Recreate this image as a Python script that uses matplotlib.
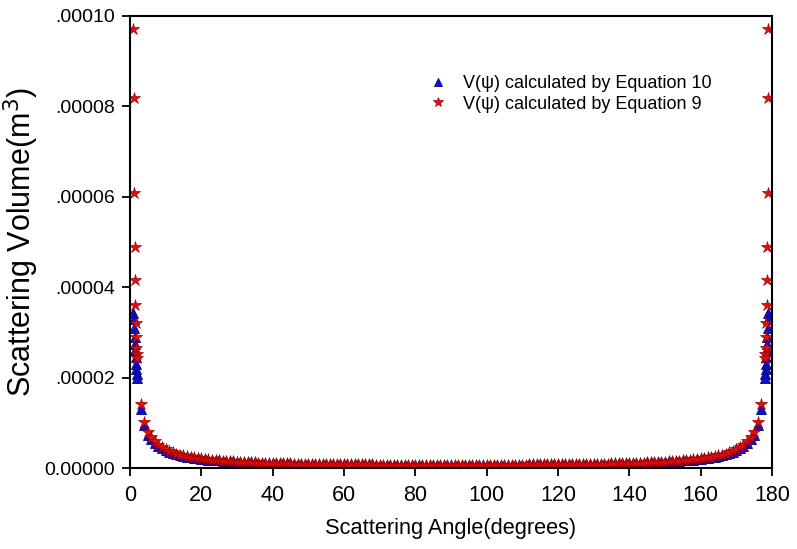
import numpy as np
import matplotlib
matplotlib.use("Agg")
import matplotlib.pyplot as plt
from matplotlib.ticker import FuncFormatter

plt.rcParams['font.family'] = ['Liberation Sans', 'DejaVu Sans']

# ---- data (values in units of 1e-6 m^3) ----
# small-angle clusters near 0 and 180 degrees
small_angles = [1.0, 1.1, 1.2, 1.3, 1.4, 1.5, 1.6, 1.7, 1.8, 1.9, 2.0]
eq9_small = [97.1, 81.8, 60.8, 49.0, 41.5, 36.1, 32.0, 29.0, 26.5, 25.3, 24.3]
eq10_small = [34.3, 33.0, 31.0, 29.0, 27.5, 26.0, 24.5, 23.0, 21.8, 20.8, 20.0]

# main range, 3..177 degrees in 1-degree steps
main_angles = list(range(3, 178))
eq9_main = [
    14.2, 10.2, 8.00, 6.89, 5.91, 5.17, 4.60, 4.15, 3.77, 3.46,
    3.20, 2.98, 2.78, 2.61, 2.46, 2.33, 2.21, 2.11, 2.01, 1.92,
    1.84, 1.77, 1.70, 1.64, 1.59, 1.53, 1.49, 1.44, 1.40, 1.36,
    1.32, 1.29, 1.26, 1.22, 1.20, 1.17, 1.14, 1.12, 1.10, 1.08,
    1.06, 1.04, 1.02, 1.00, 0.98, 0.97, 0.95, 0.94, 0.93, 0.91,
    0.90, 0.89, 0.88, 0.87, 0.86, 0.85, 0.84, 0.83, 0.82, 0.82,
    0.81, 0.80, 0.79, 0.79, 0.78, 0.78, 0.77, 0.77, 0.76, 0.76,
    0.75, 0.75, 0.75, 0.74, 0.74, 0.74, 0.73, 0.73, 0.73, 0.73,
    0.73, 0.72, 0.72, 0.72, 0.72, 0.72, 0.72, 0.72,
    # 91..177
    0.72, 0.72, 0.72, 0.72, 0.72, 0.72, 0.73, 0.73, 0.73, 0.73,
    0.73, 0.74, 0.74, 0.74, 0.75, 0.75, 0.75, 0.76, 0.76, 0.77,
    0.77, 0.78, 0.78, 0.79, 0.79, 0.80, 0.81, 0.82, 0.82, 0.83,
    0.84, 0.85, 0.86, 0.87, 0.88, 0.89, 0.90, 0.91, 0.93, 0.94,
    0.95, 0.97, 0.98, 1.00, 1.02, 1.04, 1.06, 1.08, 1.10, 1.12,
    1.14, 1.17, 1.20, 1.22, 1.26, 1.29, 1.32, 1.36, 1.40, 1.44,
    1.49, 1.53, 1.59, 1.64, 1.70, 1.77, 1.84, 1.92, 2.01, 2.11,
    2.21, 2.33, 2.46, 2.61, 2.78, 2.98, 3.20, 3.46, 3.77, 4.15,
    4.60, 5.17, 5.91, 6.89, 8.00, 10.2, 14.2,
]
eq10_main = [
    13.1, 9.50, 7.30, 6.40, 5.50, 4.85, 4.33, 3.92, 3.57, 3.29,
    3.05, 2.85, 2.67, 2.51, 2.37, 2.25, 2.14, 2.05, 1.96, 1.87,
    1.80, 1.73, 1.67, 1.61, 1.56, 1.51, 1.47, 1.42, 1.38, 1.35,
    1.31, 1.28, 1.25, 1.21, 1.19, 1.16, 1.14, 1.12, 1.09, 1.07,
    1.05, 1.04, 1.02, 1.00, 0.98, 0.97, 0.95, 0.94, 0.93, 0.91,
    0.90, 0.89, 0.88, 0.87, 0.86, 0.85, 0.84, 0.83, 0.82, 0.82,
    0.81, 0.80, 0.79, 0.79, 0.78, 0.78, 0.77, 0.77, 0.76, 0.76,
    0.75, 0.75, 0.75, 0.74, 0.74, 0.74, 0.73, 0.73, 0.73, 0.73,
    0.73, 0.72, 0.72, 0.72, 0.72, 0.72, 0.72, 0.72,
    # 91..177
    0.72, 0.72, 0.72, 0.72, 0.72, 0.72, 0.73, 0.73, 0.73, 0.73,
    0.73, 0.74, 0.74, 0.74, 0.75, 0.75, 0.75, 0.76, 0.76, 0.77,
    0.77, 0.78, 0.78, 0.79, 0.79, 0.80, 0.81, 0.82, 0.82, 0.83,
    0.84, 0.85, 0.86, 0.87, 0.88, 0.89, 0.90, 0.91, 0.93, 0.94,
    0.95, 0.97, 0.98, 1.00, 1.02, 1.04, 1.05, 1.07, 1.09, 1.12,
    1.14, 1.16, 1.19, 1.21, 1.25, 1.28, 1.31, 1.35, 1.38, 1.42,
    1.47, 1.51, 1.56, 1.61, 1.67, 1.73, 1.80, 1.87, 1.96, 2.05,
    2.14, 2.25, 2.37, 2.51, 2.67, 2.85, 3.05, 3.29, 3.57, 3.92,
    4.33, 4.85, 5.50, 6.40, 7.30, 9.50, 13.1,
]

x_ticks = [0, 20, 40, 60, 80, 100, 120, 140, 160, 180]
y_ticks = [0.0, 0.00002, 0.00004, 0.00006, 0.00008, 0.00010]
label_eq10 = "V(\u03c8) calculated by Equation 10"
label_eq9 = "V(\u03c8) calculated by Equation 9"

# ---- assemble series ----
right_angles = [180 - a for a in small_angles]
x_all = np.array(small_angles + main_angles + right_angles)
scale = 1e-6
y9 = np.array(eq9_small + eq9_main + eq9_small) * scale
y10 = np.array(eq10_small + eq10_main + eq10_small) * scale

fig = plt.figure(figsize=(7.97, 5.49), dpi=100)
ax = fig.add_axes([0.163, 0.1475, 0.8056, 0.8234])

ax.plot(x_all, y10, linestyle='none', marker='^', markersize=6.5,
        color='#1010cc', markeredgecolor='#00008a', markeredgewidth=0.6,
        label=label_eq10)
ax.plot(x_all, y9, linestyle='none', marker='*', markersize=9,
        color='#e01010', markeredgecolor='#a00000', markeredgewidth=0.5,
        label=label_eq9)

ax.set_xlim(0, 180)
ax.set_ylim(0, 0.0001)
ax.set_xticks(x_ticks)
ax.set_yticks(y_ticks)


def yfmt(v, pos):
    if abs(v) < 1e-12:
        return "0.00000"
    return ("%.5f" % v)[1:]


ax.yaxis.set_major_formatter(FuncFormatter(yfmt))
ax.tick_params(direction='out', length=6, width=1.3,
               top=False, right=False)
ax.tick_params(axis='x', labelsize=15.5, pad=6)
ax.tick_params(axis='y', labelsize=14, pad=5)
for s in ax.spines.values():
    s.set_linewidth(1.5)

ax.set_xlabel("Scattering Angle(degrees)", fontsize=15.7, labelpad=9)
ax.set_ylabel("Scattering Volume(m$^3$)", fontsize=22, labelpad=2)

ax.legend(loc='upper left', bbox_to_anchor=(0.434, 0.905), frameon=False,
          fontsize=13, handletextpad=0.6, labelspacing=0.2,
          markerscale=0.8, handlelength=1.5)

fig.savefig("out.png", dpi=100)
